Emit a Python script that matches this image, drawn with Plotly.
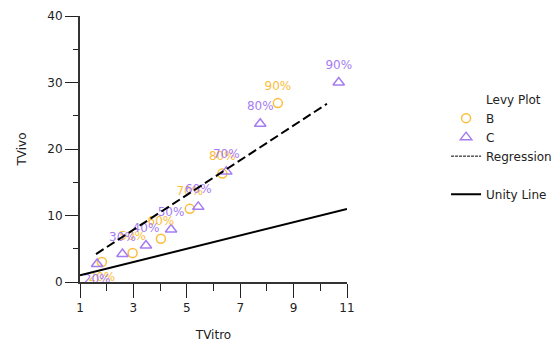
import plotly.graph_objects as go

# Levy plot data: in-vitro vs in-vivo times at matched fraction levels
b_vitro = [1.82, 2.97, 4.03, 5.11, 6.33, 8.41]
b_vivo = [3.0, 4.35, 6.5, 11.0, 16.3, 26.9]
b_labels = ["20%", "50%", "60%", "70%", "80%", "90%"]

c_vitro = [1.64, 2.59, 3.47, 4.41, 5.43, 6.48, 7.75, 10.69]
c_vivo = [2.7, 4.2, 5.5, 7.9, 11.3, 16.6, 23.8, 30.0]
c_labels = ["20%", "30%", "40%", "50%", "60%", "70%", "80%", "90%"]

reg_x = [1.6, 10.25]
reg_y = [4.2, 26.8]

unity_x = [1, 11]
unity_y = [1, 11]

x_ticks = [1, 3, 5, 7, 9, 11]
y_ticks = [0, 10, 20, 30, 40]

ORANGE = "#FBBD3A"
PURPLE = "#A57DF3"
FONT = "DejaVu Sans"
CLEAR = "rgba(0,0,0,0)"


def label_positions(labels):
    # the lowest level sits near the axis, so its label goes underneath
    return ["bottom center" if i == 0 else "top center" for i in range(len(labels))]


def blank_entry(name):
    # legend row with text only
    return go.Scatter(x=[None], y=[None], mode="markers", name=name,
                      marker=dict(size=8, color=CLEAR, line=dict(width=0, color=CLEAR)),
                      hoverinfo="skip")


fig = go.Figure()

fig.add_trace(blank_entry("Levy Plot"))

fig.add_trace(go.Scatter(x=b_vitro, y=b_vivo, mode="markers", name="B",
                         marker=dict(symbol="circle-open", size=9, color=ORANGE,
                                     line=dict(width=1.5, color=ORANGE))))
fig.add_trace(go.Scatter(x=c_vitro, y=c_vivo, mode="markers", name="C",
                         marker=dict(symbol="triangle-up-open", size=10, color=PURPLE,
                                     line=dict(width=1.5, color=PURPLE))))

# percentage labels, offset from the points by an invisible marker
fig.add_trace(go.Scatter(x=b_vitro, y=b_vivo, mode="markers+text", text=b_labels,
                         textposition=label_positions(b_labels), showlegend=False,
                         marker=dict(size=15, color=CLEAR), cliponaxis=False,
                         textfont=dict(family=FONT, size=12, color=ORANGE), hoverinfo="skip"))
fig.add_trace(go.Scatter(x=c_vitro, y=c_vivo, mode="markers+text", text=c_labels,
                         textposition=label_positions(c_labels), showlegend=False,
                         marker=dict(size=15, color=CLEAR), cliponaxis=False,
                         textfont=dict(family=FONT, size=12, color=PURPLE), hoverinfo="skip"))

# regression line on the chart; its legend key is drawn finer
fig.add_trace(go.Scatter(x=reg_x, y=reg_y, mode="lines", showlegend=False,
                         line=dict(color="black", width=2, dash="9px,4px")))
fig.add_trace(go.Scatter(x=[None], y=[None], mode="lines", name="Regression",
                         line=dict(color="black", width=1, dash="3px,1px")))

fig.add_trace(blank_entry(" "))

fig.add_trace(go.Scatter(x=unity_x, y=unity_y, mode="lines", name="Unity Line",
                         line=dict(color="black", width=2)))

fig.update_layout(
    width=553, height=342,
    margin=dict(l=80, r=206, t=16, b=60, autoexpand=False),
    paper_bgcolor="white", plot_bgcolor="white",
    font=dict(family=FONT, size=12, color="#222222"),
    showlegend=True,
    legend=dict(x=1.371, y=0.742, xanchor="left", yanchor="top",
                bgcolor="rgba(0,0,0,0)", font=dict(size=12, color="#222222"),
                itemclick=False, tracegroupgap=0),
    xaxis=dict(range=[1, 11], tickvals=x_ticks, ticks="outside", ticklen=14,
               tickwidth=1, tickcolor="#222222", showline=True, linecolor="#333333",
               linewidth=2, showgrid=False, zeroline=False, automargin=False,
               minor=dict(dtick=1, tick0=1, ticks="outside", ticklen=7,
                          tickcolor="#222222", tickwidth=1),
               title=dict(text="TVitro", standoff=20, font=dict(size=12))),
    yaxis=dict(range=[0, 40], tickvals=y_ticks, ticks="outside", ticklen=13,
               tickwidth=1, tickcolor="#222222", showline=True, linecolor="#333333",
               linewidth=2, showgrid=False, zeroline=False, automargin=False,
               minor=dict(dtick=5, tick0=0, ticks="outside", ticklen=5,
                          tickcolor="#222222", tickwidth=1),
               title=dict(text="TVivo", standoff=18, font=dict(size=12))),
)

fig.write_html("out.html")
